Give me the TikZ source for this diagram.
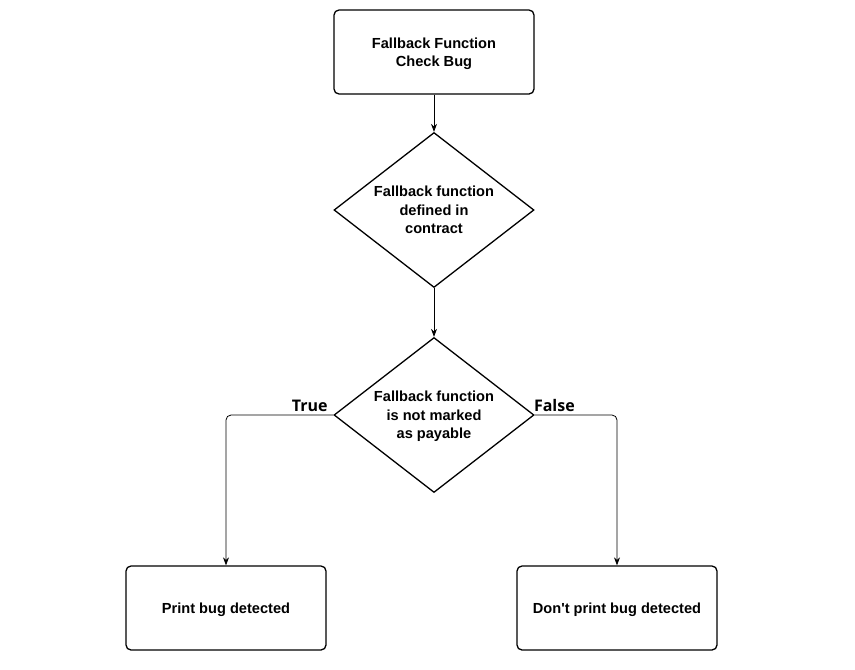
\documentclass[tikz,border=0pt]{standalone}
\usepackage{fontspec}
\setmainfont{Liberation Sans}[Ligatures=TeXOff]
\newfontfamily\labelfont{Open Sans}
\usetikzlibrary{shapes.geometric,arrows.meta}

\begin{document}
\begin{tikzpicture}[x=1pt, y=-1pt,
  box/.style={draw, line width=1.3pt, rounded corners=5pt, minimum width=200pt, minimum height=84pt, align=center, text depth=0pt, font=\bfseries\fontsize{14.6}{18.5}\selectfont},
  decision/.style={draw, line width=1.3pt, diamond, shape aspect=1.29, inner sep=0pt, minimum width=200pt, minimum height=155pt, align=center, text depth=0pt, font=\bfseries\fontsize{14.6}{18.5}\selectfont},
  flow/.style={line width=0.8pt, -{Stealth[length=8pt, width=6pt]}, rounded corners=5pt},
  branch/.style={font=\labelfont\bfseries\fontsize{16}{18}\selectfont, inner sep=3pt}]
\useasboundingbox (0,0) rectangle (855,670);
\node[box] (C) at (434,52) {Fallback Function\\Check Bug};
\node[decision] (D) at (434,210) {Fallback function\\defined in\\contract};
\node[decision] (P) at (434,415) {Fallback function\\is not marked\\as payable};
\node[box] (T) at (226,608) {Print bug detected};
\node[box] (F) at (617,608) {Don't print bug detected};
\draw [flow] (C) -- (D);
\draw [flow] (D) -- (P);
\draw [flow] (P.west) -| node[pos=0.11, above, branch] {True} (T.north);
\draw [flow] (P.east) -| node[pos=0.12, above, branch] {False} (F.north);
\end{tikzpicture}
\end{document}
